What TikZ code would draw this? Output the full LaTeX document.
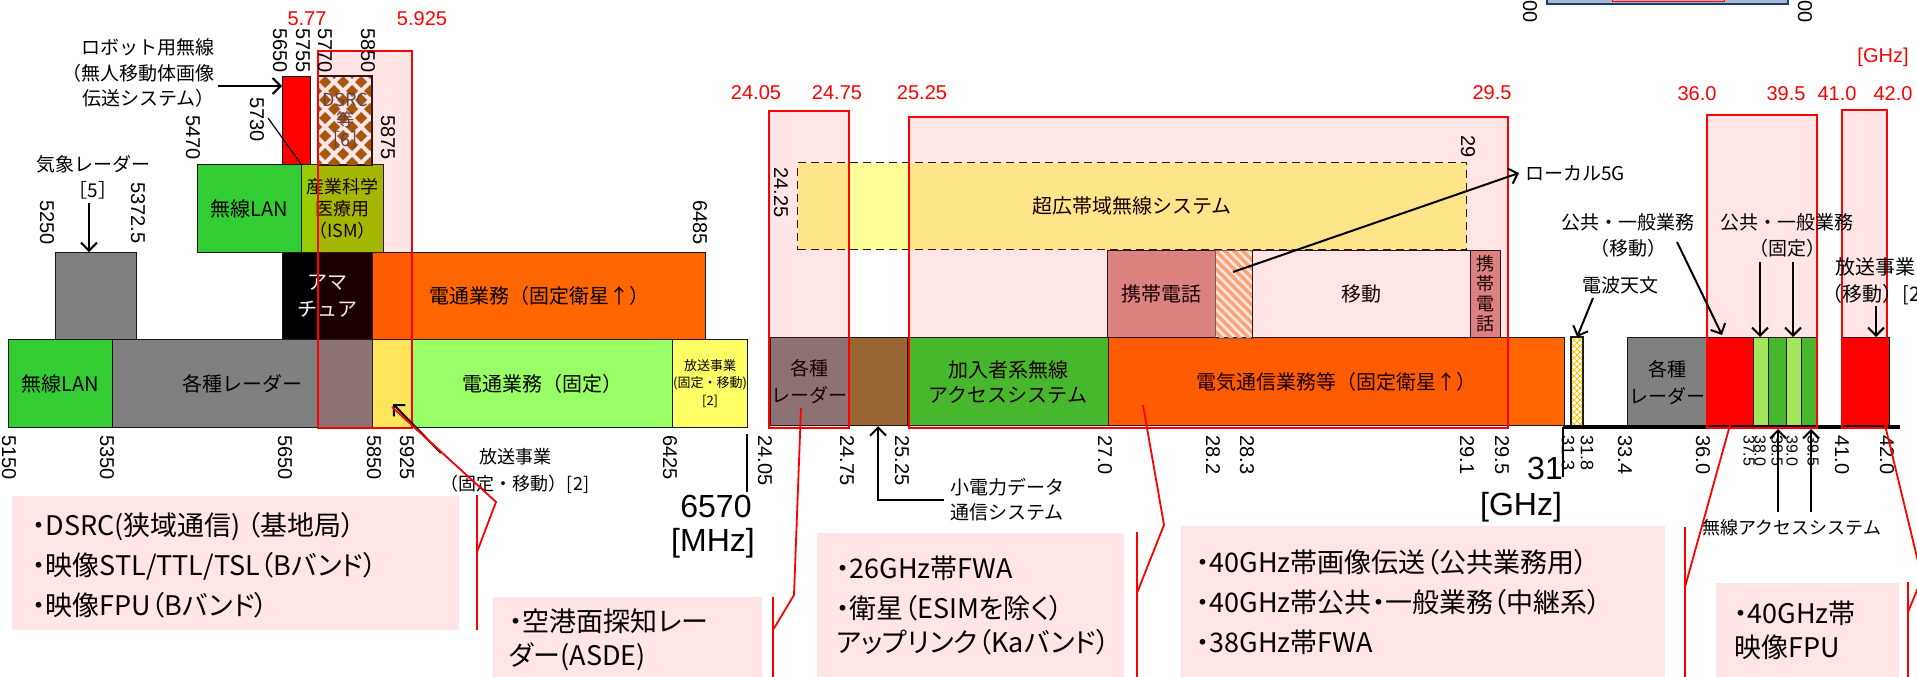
\documentclass[tikz,border=0pt]{standalone}
\usepackage{fontspec}
\setmainfont{Noto Sans CJK JP}
\newfontfamily\numfont{Liberation Sans}
\newfontfamily\notefont{Noto Sans CJK JP}[RawFeature=+palt]
\usetikzlibrary{arrows.meta}
\definecolor{lan}{HTML}{33CC33}
\definecolor{radar}{HTML}{808080}
\definecolor{bcast}{HTML}{FFFF66}
\definecolor{fixgreen}{HTML}{99FF66}
\definecolor{satorange}{HTML}{FF6600}
\definecolor{ismgreen}{HTML}{99CC00}
\definecolor{srdbrown}{HTML}{996633}
\definecolor{mobilepink}{HTML}{D7908E}
\definecolor{uwbyellow}{HTML}{FFFF99}
\definecolor{notepink}{HTML}{FFE5E5}
\definecolor{dsrcbrown}{HTML}{A0600F}
\definecolor{stripe}{HTML}{FFB57A}
\definecolor{astro}{HTML}{FFC000}
\definecolor{topblue}{HTML}{1F3B73}
\definecolor{topsteel}{HTML}{A7B9D1}
\definecolor{topinner}{HTML}{C9B3C3}
\newcommand{\fsz}[2]{\fontsize{#1}{#2}\selectfont}
% one allocation block: name, x1, y1, x2, y2, fill, text
\newcommand{\band}[8][]{%
  \node[band, fill=#7, minimum width=#5-#3, minimum height=#6-#4, #1] (#2) at (#3,#4) {#8};}
\tikzset{
  band/.style={draw=black!90, line width=1.2pt, inner sep=0pt, anchor=north west,
    align=center, font=\fsz{20}{26}},
  zone/.style={draw=red, line width=2.8pt, fill=red, fill opacity=0.1},
  lead/.style={draw=red, line width=1.8pt},
  arr/.style={-{Straight Barb[length=8pt,width=16pt]}, line width=2pt},
  freq/.style={rotate=-90, anchor=west, inner sep=0pt, font=\numfont\fsz{20}{24}},
  smallfreq/.style={freq, font=\numfont\fsz{16}{18}},
  redtag/.style={text=red, inner sep=0pt, font=\numfont\fsz{20}{24}},
  bigtag/.style={inner sep=0pt, font=\numfont\fsz{32}{36}},
  lbl/.style={inner sep=0pt, align=center, font=\fsz{19}{26}},
  notetext/.style={inner sep=0pt, anchor=west, align=left, font=\notefont\fsz{27}{40}},
}

\begin{document}
\begin{tikzpicture}[x=1pt, y=-1pt]
\useasboundingbox (0,0) rectangle (1917,677);

% edge of the chart above
\draw[line width=2.5pt, draw=topblue, fill=topsteel] (1547,-20) rectangle (1788,4);
\draw[line width=1pt, draw=red, fill=topinner] (1612,-20) rectangle (1724,2);
\node[freq] (topA) at (1530,-22) {3300};
\node[freq] (topB) at (1805,-22) {4400};

% ---- 5GHz ----
\band{wlanLow}{8}{339}{112}{427}{lan}{無線LAN}
\band{radarLow}{112}{339}{372}{427}{radar}{各種レーダー}
\band{bcastA}{372}{339}{412}{427}{bcast}{}
\band{fixLow}{412}{339}{672}{427}{fixgreen}{電通業務（固定）}
\band[font=\fsz{13}{17.5}]{bcastB}{672}{339}{747}{427}{bcast}{放送事業\\(固定・移動)\\{[2]}}
\band{wxRadar}{55}{252}{136}{339}{radar}{}
\band[text=white, font=\fsz{20}{27}]{amateur}{282}{252}{372}{339}{black}{アマ\\チュア}
\band{satLow}{372}{252}{705}{339}{satorange}{電通業務（固定衛星↑）}
\band{wlanUp}{197}{164}{301}{252}{lan}{無線LAN}
\band[font=\fsz{18}{22}]{ism}{301}{164}{383}{252}{ismgreen}{産業科学\\医療用\\（ISM）}
\band{robot}{282}{76}{310}{164}{red}{}
\band{dsrc}{318}{76}{371}{164}{white}{}
\begin{scope}
\clip (318,76) rectangle (371,164);
\foreach \j in {-18,0,...,90}{
  \foreach \i in {0,18,...,72}{
    \fill[dsrcbrown] (307+\i,82+\j) ++(-6,0) -- ++(6,-6) -- ++(6,6) -- ++(-6,6) -- cycle;
    \fill[dsrcbrown] (316+\i,91+\j) ++(-6,0) -- ++(6,-6) -- ++(6,6) -- ++(-6,6) -- cycle;
  }
}
\end{scope}
\draw[draw=black!90, line width=1.2pt] (dsrc.north west) rectangle (dsrc.south east);
\node[inner sep=0pt, align=center, font=\fsz{18}{20}, text=black!70] (dsrctxt) at (dsrc.center) {DSRC\\等\\［6］};

\draw[zone] (318,51) rectangle (412,428);

% ---- 24--29.5GHz ----
\band[font=\fsz{19}{27}]{radarMid}{770}{337}{848}{425}{radar}{各種\\レーダー}
\band{srd}{848}{337}{907}{425}{srdbrown}{}
\band[font=\fsz{20}{25}]{fwa}{907}{337}{1108}{425}{lan}{加入者系無線\\アクセスシステム}
\band{satMid}{1108}{337}{1564}{425}{satorange}{電気通信業務等（固定衛星↑）}
\band[dashed, dash pattern=on 8pt off 5pt]{uwb}{797}{162}{1466}{249}{uwbyellow}{超広帯域無線システム}
\band{mobileA}{1107}{250}{1215}{337}{mobilepink}{携帯電話}
\band{local5g}{1215}{250}{1252}{337}{white}{}
\begin{scope}
\clip (1215,250) rectangle (1252,337);
\foreach \k in {-12,...,5}
  \draw[stripe, line width=3.5pt] (1215+\k*9,250) -- ++(90,90);
\end{scope}
\draw[draw=black!60, line width=1pt] (local5g.north west) rectangle (local5g.south east);
\band{mobile}{1252}{250}{1470}{337}{white}{移動}
\band[font=\fsz{18}{20}]{mobileB}{1470}{250}{1500}{337}{mobilepink}{携\\帯\\電\\話}

% ---- 31--42GHz ----
\band{astroBox}{1571}{337}{1582}{427}{white}{}
\begin{scope}
\clip (1571,337) rectangle (1582,427);
\foreach \k in {-16,...,16}{
  \draw[astro, line width=1pt] (1571+\k*6,337) -- ++(100,100);
  \draw[astro, line width=1pt] (1571+\k*6,337) -- ++(-100,100);
}
\end{scope}
\draw[draw=black!90, line width=1.2pt] (astroBox.north west) rectangle (astroBox.south east);
\band[font=\fsz{19}{27}]{radarHigh}{1627}{337}{1706}{427}{radar}{各種\\レーダー}
\band{pubA}{1706}{337}{1753}{427}{red}{}
\band{waA}{1753}{337}{1768}{427}{fixgreen}{}
\band{waB}{1768}{337}{1786}{427}{lan}{}
\band{waC}{1786}{337}{1801}{427}{fixgreen}{}
\band{waD}{1801}{337}{1816}{427}{lan}{}
\band{bcastHigh}{1841}{337}{1889}{427}{red}{}
\draw[line width=4pt] (1563,427) -- (1900,427);

\draw[zone] (769,111) rectangle (849,428);
\draw[zone] (909,117) rectangle (1508,428);
\draw[zone] (1707,115) rectangle (1817,428);
\draw[zone] (1842,110) rectangle (1887,428);

% red edge values
\node[redtag] (tA) at (307,19) {5.77};
\node[redtag] (tB) at (422,19) {5.925};
\node[redtag] (tC) at (756,93) {24.05};
\node[redtag] (tD) at (837,93) {24.75};
\node[redtag] (tE) at (922,93) {25.25};
\node[redtag] (tF) at (1492,93) {29.5};
\node[redtag] (tG) at (1697,94) {36.0};
\node[redtag] (tH) at (1786,94) {39.5};
\node[redtag] (tI) at (1837,94) {41.0};
\node[redtag] (tJ) at (1893,94) {42.0};
\node[redtag] (tK) at (1883,57) {[GHz]};

% frequencies
\foreach \x/\f in {9/5150, 107/5350, 285/5650, 374/5850, 407/5925, 670/6425, 765/24.05,
  847/24.75, 902/25.25, 1105/27.0, 1213/28.2, 1247/28.3, 1467/29.1, 1502/29.5,
  1625/33.4, 1703/36.0, 1842/41.0, 1887/42.0}
  \node[freq] at (\x,435) {\f};
\foreach \x/\f in {1568/31.3, 1587/31.8}
  \node[freq, font=\numfont\fsz{18}{20}] at (\x,435) {\f};
\foreach \x/\f in {1749/37.5, 1760/38.0, 1777/38.5, 1792/39.0, 1813/39.5}
  \node[smallfreq] at (\x,435) {\f};
\foreach \x/\y/\f in {280/28/5650, 303/28/5755, 325/28/5770, 368/28/5850, 257/97/5730,
  193/115/5470, 388/115/5875, 47/200/5250, 138/182/5372.5, 700/200/6485,
  781/167/24.25, 1468/135/29}
  \node[freq] at (\x,\y) {\f};

\node[bigtag] (mhzA) at (716,506) {6570};
\node[bigtag] (mhzB) at (713,543) {[MHz]};
\coordinate (mhzTick) at (747,434);
\draw[line width=1.2pt] (mhzTick) -- ++(0,58);
\node[bigtag] (ghzA) at (1545,468) {31};
\node[bigtag] (ghzB) at (1521,507) {[GHz]};
\coordinate (ghzTick) at (1563,427);
\draw[line width=1.2pt] (ghzTick) -- ++(0,50);

% labels and arrows
\node[lbl, align=right, anchor=east, font=\fsz{19}{25.5}] (robotlbl) at (215,73) {ロボット用無線\\（無人移動体画像\\伝送システム）};
\coordinate (robotTail) at (218,86);
\draw[arr] (robotTail) -- (robotTail -| robot.west);

\node[lbl] (wxlbl) at (93,177) {気象レーダー\\［5］};
\coordinate (wxTail) at (89,203);
\draw[arr] (wxTail) -- (wxTail |- wxRadar.north);

\coordinate (ismTag) at (268,118);
\draw[line width=1.2pt] (ismTag) -- (ism.north west);

\node[lbl, font=\fsz{18}{27}] (bcastlbl) at (515,471) {放送事業\\（固定・移動）[2]};
\coordinate (bcastTail) at (441,453);
\coordinate (bcastTip) at (393,404);
\draw[arr] (bcastTail) -- (bcastTip);

\node[lbl, align=left, anchor=west, font=\fsz{19}{25}] (srdlbl) at (950,500) {小電力データ\\通信システム};
\draw[arr] ([xshift=-6pt]srdlbl.west) -| (srd.south);

\node[lbl, anchor=west] (l5glbl) at (1525,173) {ローカル5G};
\coordinate (l5gTail) at (1233,272);
\draw[arr] (l5gTail) -- ([xshift=-6pt]l5glbl.west);

\node[lbl] (astrolbl) at (1620,285) {電波天文};
\coordinate (astroTail) at (1593,298);
\draw[arr] (astroTail) -- (astroBox.north);

\node[lbl] (pubmoblbl) at (1628,235) {公共・一般業務\\（移動）};
\coordinate (pubmobTail) at (1677,242);
\coordinate (pubmobTip) at (1722,335);
\draw[arr] (pubmobTail) -- (pubmobTip);

\node[lbl] (pubfixlbl) at (1787,235) {公共・一般業務\\（固定）};
\coordinate (pubfixTailA) at (1760,262);
\coordinate (pubfixTailB) at (1793,262);
\draw[arr] (pubfixTailA) -- (pubfixTailA |- waA.north);
\draw[arr] (pubfixTailB) -- (pubfixTailB |- waC.north);

\node[lbl, font=\fsz{20}{27}] (bcastHlbl) at (1875,281) {放送事業\\（移動）[2]};
\coordinate (bcastHTail) at (1876,306);
\draw[arr] (bcastHTail) -- (bcastHTail |- bcastHigh.north);

\node[lbl, font=\fsz{18}{22}] (walbl) at (1792,528) {無線アクセスシステム};
\coordinate (waTailA) at (1778,512);
\coordinate (waTailB) at (1811,512);
\draw[arr] (waTailA) -- (1778,429);
\draw[arr] (waTailB) -- (1811,429);

% notes below
\fill[notepink] (12,496) rectangle (459,630);
\node[notetext] (noteA) at (32,565) {・DSRC(狭域通信) （基地局）\\・映像STL/TTL/TSL（Bバンド）\\・映像FPU（Bバンド）};
\coordinate (noteAfrom) at (392,407);
\coordinate (noteAbend) at (496,502);
\coordinate (noteAbar) at (477,552);
\draw[lead] (noteAfrom) -- (noteAbend) -- (noteAbar);
\draw[lead] (477,495) -- (477,630);

\fill[notepink] (493,597) rectangle (762,690);
\node[notetext, font=\notefont\fsz{27}{34}] (noteB) at (509,640) {・空港面探知レー\\ダー(ASDE)};
\coordinate (noteBfrom) at (801,408);
\coordinate (noteBbend) at (794,595);
\coordinate (noteBbar) at (773,630);
\draw[lead] (noteBfrom) -- (noteBbend) -- (noteBbar);
\draw[lead] (773,597) -- (773,690);

\fill[notepink] (817,533) rectangle (1124,690);
\node[notetext, font=\notefont\fsz{27}{34}] (noteC) at (836,605) {・26GHz帯FWA\\[6pt]・衛星（ESIMを除く）\\アップリンク（Kaバンド）};
\coordinate (noteCfrom) at (1143,405);
\coordinate (noteCbend) at (1164,525);
\coordinate (noteCbar) at (1137,593);
\draw[lead] (noteCfrom) -- (noteCbend) -- (noteCbar);
\draw[lead] (1137,532) -- (1137,690);

\fill[notepink] (1181,526) rectangle (1665,690);
\node[notetext] (noteD) at (1196,602) {・40GHz帯画像伝送（公共業務用）\\・40GHz帯公共・一般業務（中継系）\\・38GHz帯FWA};
\coordinate (noteDfrom) at (1730,425);
\coordinate (noteDbar) at (1685,587);
\draw[lead] (noteDfrom) -- (noteDbar);
\draw[lead] (1685,527) -- (1685,690);

\fill[notepink] (1716,583) rectangle (1899,690);
\node[notetext, font=\notefont\fsz{27}{34}] (noteE) at (1734,630) {・40GHz帯\\映像FPU};
\coordinate (noteEfrom) at (1885,425);
\coordinate (noteEbend) at (1922,578);
\coordinate (noteEbar) at (1908,612);
\draw[lead] (noteEfrom) -- (noteEbend) -- (noteEbar);
\draw[lead] (1908,582) -- (1908,690);
\end{tikzpicture}
\end{document}
